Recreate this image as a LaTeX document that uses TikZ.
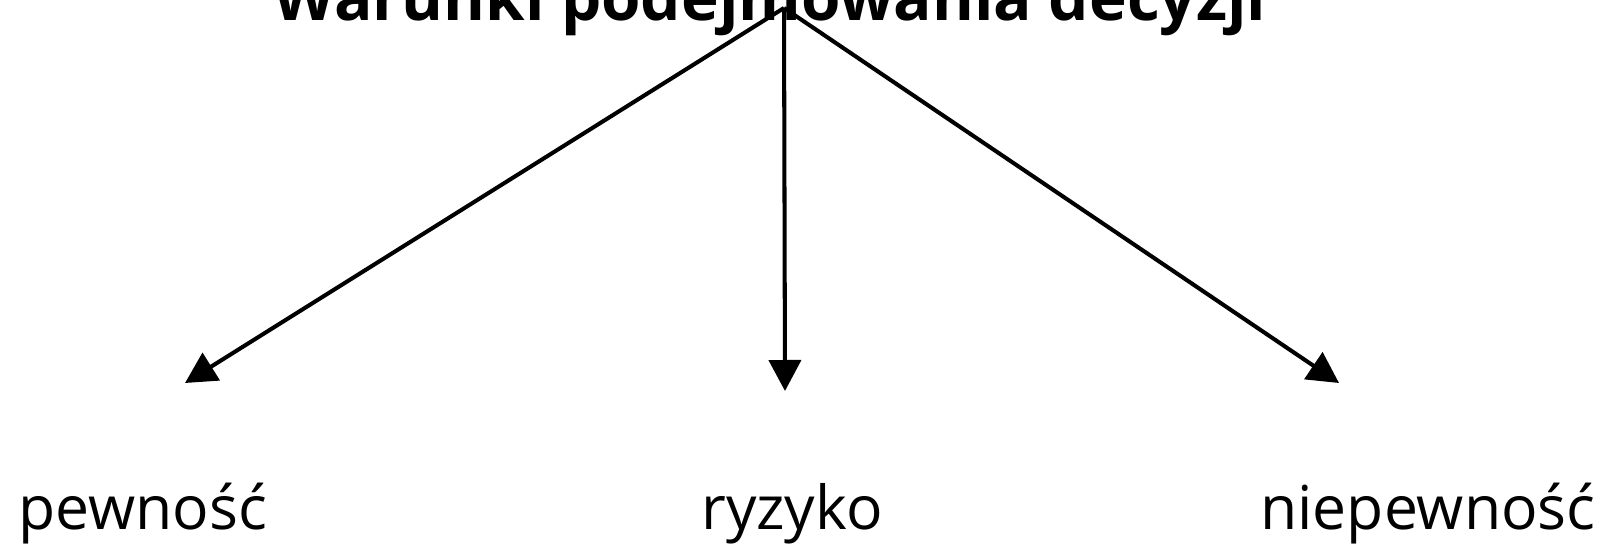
\documentclass[tikz,border=0pt]{standalone}
\usepackage{fontspec}
\setmainfont{Open Sans}
\usetikzlibrary{arrows.meta}
\tikzset{
  EdgeStyle/.style = {line width=2.3pt, -{Triangle[length=0.62cm, width=0.64cm]}},
  LabelStyle/.style = {anchor=base, inner sep=0pt, font=\fontsize{34.5}{40}\selectfont},
  TitleStyle/.style = {anchor=base, inner sep=0pt, font=\fontsize{36.3}{42}\selectfont\bfseries}
}

\begin{document}
\begin{tikzpicture}
	\useasboundingbox (0,0) rectangle (32.22,10.88);
	\clip (0,0) rectangle (32.22,10.88);
	\node[TitleStyle] (T) at (15.4,10.47) {Warunki podejmowania decyzji};
	\coordinate (S) at (15.68,10.72);
	\coordinate (P) at (3.70,3.22);
	\coordinate (R) at (15.70,3.06);
	\coordinate (N) at (26.78,3.22);
	\node[LabelStyle] (pewnosc) at (2.86,0.30) {pewność};
	\node[LabelStyle] (ryzyko) at (15.84,0.30) {ryzyko};
	\node[LabelStyle] (niepewnosc) at (28.56,0.30) {niepewność};
	\draw[EdgeStyle] (S) -- (P);
	\draw[EdgeStyle] (S) -- (R);
	\draw[EdgeStyle] (S) -- (N);
\end{tikzpicture}
\end{document}
